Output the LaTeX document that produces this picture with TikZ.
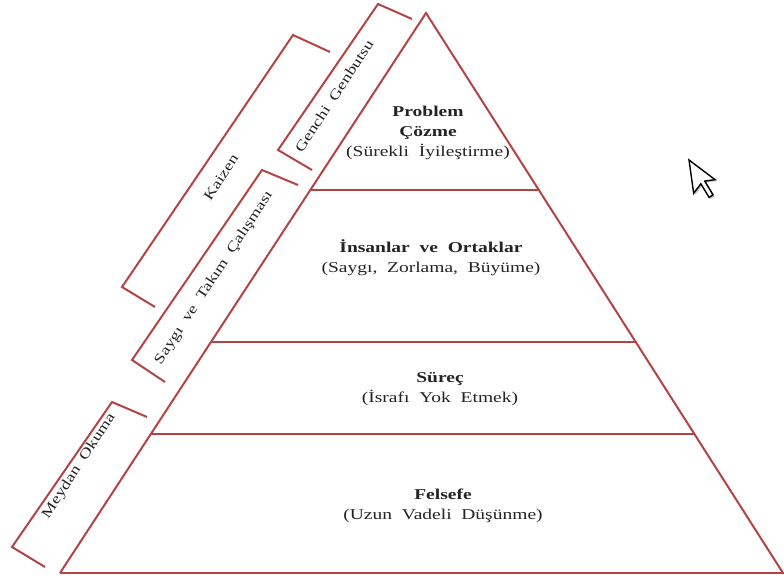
\documentclass[tikz,border=0pt]{standalone}
\usepackage{fontspec}
\setmainfont[FakeStretch=1.3,WordSpace=2]{Liberation Serif}
\usetikzlibrary{calc}
\definecolor{lred}{RGB}{178,68,68}
\definecolor{txt}{RGB}{35,35,35}
\tikzset{
  edge/.style={draw=lred,line width=2pt},
  brk/.style={draw=lred,line width=2pt},
  tier/.style={align=center,text=txt,font=\fontsize{15}{20}\selectfont,inner sep=0pt},
  side/.style={text=txt,font=\fontsize{14}{17}\selectfont,rotate=56.8,inner sep=0pt}
}
\begin{document}
\begin{tikzpicture}[x=1pt,y=-1pt]
\useasboundingbox (0,0) rectangle (784,581);
% triangle
\coordinate (A) at (426,13);
\coordinate (BL) at (60,573);
\coordinate (BR) at (783,573);
\draw[edge] (BL) -- (A) -- (BR);
\draw[edge] (BL) -- (784,573);
% tier lines
\foreach \t/\n in {0.316/1,0.5875/2,0.752/3}{
  \coordinate (L\n) at ($(A)!\t!(BL)$);
  \coordinate (R\n) at ($(A)!\t!(BR)$);
  \draw[edge] (L\n) -- (R\n);
}
% tier texts
\node[tier] (t1) at (428,132.5) {\textbf{Problem}\\\textbf{Çözme}\\(Sürekli İyileştirme)};
\node[tier] (t2) at (431,257.5) {\textbf{İnsanlar ve Ortaklar}\\(Saygı, Zorlama, Büyüme)};
\node[tier] (t3) at (440,389) {\textbf{Süreç}\\(İsrafı Yok Etmek)};
\node[tier] (t4) at (443,505.5) {\textbf{Felsefe}\\(Uzun Vadeli Düşünme)};
% brackets
\coordinate (g1) at (412,19); \coordinate (g2) at (378,4);
\coordinate (g3) at (278,150); \coordinate (g4) at (312,170);
\draw[brk] (g1) -- (g2) -- (g3) -- (g4);
\coordinate (k1) at (330,52); \coordinate (k2) at (293,35);
\coordinate (k3) at (122,287); \coordinate (k4) at (155,307);
\draw[brk] (k1) -- (k2) -- (k3) -- (k4);
\coordinate (s1) at (298,185); \coordinate (s2) at (262,170);
\coordinate (s3) at (132,360); \coordinate (s4) at (165,382);
\draw[brk] (s1) -- (s2) -- (s3) -- (s4);
\coordinate (m1) at (147,417); \coordinate (m2) at (112,402);
\coordinate (m3) at (12,547); \coordinate (m4) at (45,567);
\draw[brk] (m1) -- (m2) -- (m3) -- (m4);
% bracket labels
\node[side] (lg) at (334,96) {Genchi Genbutsu};
\node[side] (lk) at (221,177) {Kaizen};
\node[side] (ls) at (214,278) {Saygı ve Takım Çalışması};
\node[side] (lm) at (79,466) {Meydan Okuma};
% cursor
\begin{scope}[shift={(689,160)},rotate=8]
\fill[black!25] (1.5,1.5) -- (1.5,35.1) -- (9.9,26.7) -- (16.2,41.4) -- (20.4,39.3) -- (14.1,24.6) -- (24.6,24.6) -- cycle;
\draw[fill=white,draw=black,line width=1.4pt,line join=miter] (0,0) -- (0,33.6) -- (8.4,25.2) -- (14.7,39.9) -- (18.9,37.8) -- (12.6,23.1) -- (23.1,23.1) -- cycle;
\end{scope}
\end{tikzpicture}
\end{document}
